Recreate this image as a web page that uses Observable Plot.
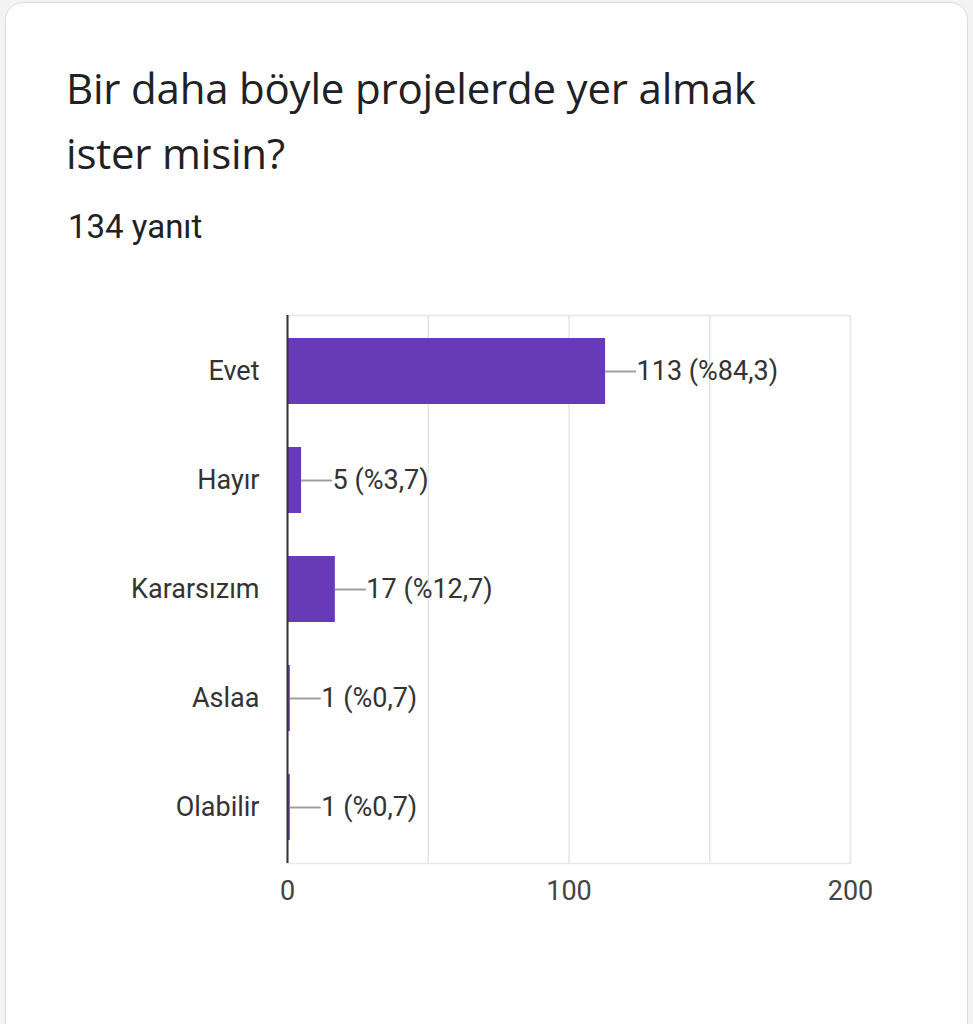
<!DOCTYPE html>
<html>
<head>
<meta charset="utf-8">
<script src="https://cdn.jsdelivr.net/npm/d3@7"></script>
<script src="https://cdn.jsdelivr.net/npm/@observablehq/plot@0.6"></script>
<style>
  html, body { margin: 0; padding: 0; background: #f1f3f4; width: 973px; height: 1024px; overflow: hidden; }
  #card { position: absolute; left: 5px; top: 2px; width: 961px; height: 1060px; background: #fff;
          border: 1px solid #dadce0; border-radius: 18px; }
  #title { position: absolute; left: 66px; top: 55px; font-family: "Open Sans", sans-serif; font-size: 42px;
           line-height: 65px; color: #202124; width: 880px; font-weight: 400; letter-spacing: -0.2px; }
  #sub { position: absolute; left: 68px; top: 207px; font-family: Roboto, sans-serif; font-size: 33px; color: #202124; }
  #chart { position: absolute; left: 0px; top: 298px; }
</style>
</head>
<body>
<div id="card"></div>
<div id="title">Bir daha böyle projelerde yer almak<br>ister misin?</div>
<div id="sub">134 yanıt</div>
<div id="chart"></div>
<script>
const categories = ["Evet", "Hayır", "Kararsızım", "Aslaa", "Olabilir"];
const counts = [113, 5, 17, 1, 1];
const labels = ["113 (%84,3)", "5 (%3,7)", "17 (%12,7)", "1 (%0,7)", "1 (%0,7)"];
const xTicks = [0, 100, 200];
const gridTicks = [0, 50, 100, 150, 200];

const data = categories.map((c, i) => ({category: c, value: counts[i], label: labels[i]}));

const chart = Plot.plot({
  width: 973,
  height: 620,
  marginLeft: 287,
  marginRight: 123,
  marginTop: 17,
  marginBottom: 55,
  style: {fontFamily: "Roboto, sans-serif", fontSize: "27px", color: "#333", background: "transparent"},
  x: {domain: [0, 200], ticks: xTicks, label: null},
  y: {domain: categories, paddingInner: 0.39, paddingOuter: 0.195, label: null},
  marks: [
    Plot.gridX(gridTicks, {stroke: "#e6e6e6", strokeOpacity: 1, strokeWidth: 1.5}),
    Plot.frame({stroke: "#e8e8e8", strokeWidth: 1.5}),
    Plot.barX(data, {x: "value", y: "category", fill: "#673ab7"}),
    Plot.ruleY(data, {x1: "value", x2: "value", y: "category", insetRight: -31, stroke: "#9e9e9e", strokeWidth: 2}),
    Plot.text(data, {x: "value", y: "category", text: "label", dx: 31, textAnchor: "start", fill: "#333", fontSize: 27}),
    Plot.ruleX([0], {stroke: "#333", strokeWidth: 2}),
    Plot.axisX({ticks: xTicks, tickSize: 0, tickPadding: 17, fontSize: 27, fill: "#444", label: null}),
    Plot.axisY({tickSize: 0, tickPadding: 28, fontSize: 27, fill: "#333", label: null})
  ]
});
document.getElementById("chart").appendChild(chart);
</script>
</body>
</html>
